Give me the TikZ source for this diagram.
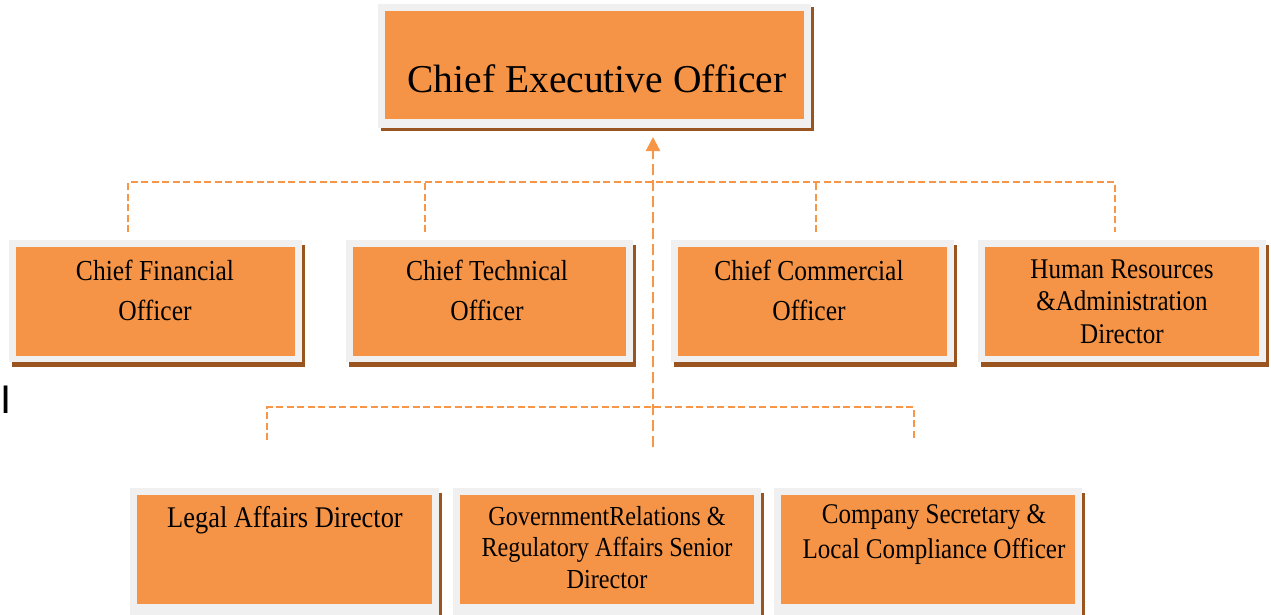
\documentclass[tikz,border=0pt]{standalone}
\usepackage{fontspec}
\setmainfont{Liberation Serif}
\newfontfamily\boxfont[FakeStretch=0.88]{Liberation Serif}
\newfontfamily\barfont{Liberation Sans}
\usetikzlibrary{arrows.meta}

\definecolor{faceorange}{HTML}{F59446}
\definecolor{framegrey}{HTML}{F0F0F0}
\definecolor{shadowbrown}{HTML}{9A541F}
\definecolor{lineorange}{HTML}{F79646}

\tikzset{
  face/.style={fill=faceorange, draw=none, inner sep=0pt, outer sep=0pt},
  lbl/.style={anchor=base, align=center, inner sep=0pt, text=black},
  branch/.style={draw=lineorange, line width=2.2pt, dash pattern=on 7pt off 3.5pt},
  trunk/.style={draw=lineorange, line width=2.2pt, dash pattern=on 11pt off 5pt},
}

% #1 name, #2-#5 face corners (left, top, right, bottom),
% #6 frame margin below the face, #7 drop of the brown shadow
\newcommand\orgbox[7]{%
  \fill[shadowbrown] (#2-4,#3-7+#7) rectangle (#4+10,#5+#6+#7);
  \fill[framegrey] (#2-7,#3-7) rectangle (#4+7,#5+#6);
  \node[face, minimum width={#4-#2}, minimum height={#5-#3}] (#1)
    at ({(#2+#4)/2},{(#3+#5)/2}) {};
}

\begin{document}
\begin{tikzpicture}[x=1pt, y=-1pt]
\useasboundingbox (0,0) rectangle (1271,614);
\clip (0,0) rectangle (1271,614);
\fill[white] (0,0) rectangle (1271,614);

% boxes
\orgbox{ceo}{385}{11}{804}{119}{9}{3}
\orgbox{cfo}{16}{247}{295}{356}{6}{5}
\orgbox{cto}{353}{247}{626}{356}{6}{5}
\orgbox{cco}{678}{247}{947}{356}{6}{5}
\orgbox{hrd}{985}{247}{1259}{356}{6}{5}
\orgbox{lad}{137}{495}{432}{604}{14}{5}
\orgbox{grd}{460}{495}{754}{604}{14}{5}
\orgbox{cso}{781}{495}{1075}{604}{14}{5}

% labels (multi-line labels sit on the baseline of their last line)
\node[lbl, font=\fontsize{39.5}{44}\selectfont] (ceot) at (597,92) {Chief Executive Officer};
\node[lbl, font=\boxfont\fontsize{29}{40}\selectfont] (cfot) at (155,320) {Chief Financial\\Officer};
\node[lbl, font=\boxfont\fontsize{29}{40}\selectfont] (ctot) at (487,320) {Chief Technical\\Officer};
\node[lbl, font=\boxfont\fontsize{29}{40}\selectfont] (ccot) at (809,320) {Chief Commercial\\Officer};
\node[lbl, font=\boxfont\fontsize{28.5}{32.5}\selectfont] (hrdt) at (1122,343) {Human Resources\\\&Administration\\Director};
\node[lbl, font=\boxfont\fontsize{30}{34}\selectfont] (ladt) at (285,527) {Legal Affairs Director};
\node[lbl, font=\boxfont\fontsize{27.5}{31.5}\selectfont] (grdt) at (607,588) {GovernmentRelations \&\\Regulatory Affairs Senior\\Director};
\node[lbl, font=\boxfont\fontsize{28.5}{35}\selectfont] (csot) at (934,558) {Company Secretary \&\\Local Compliance Officer};

% stray text cursor at the left edge
\node[anchor=base, inner sep=0pt, font=\barfont\fontsize{40}{40}\selectfont] (bar) at (6.5,413) {I};

% connector points
\coordinate (hub) at (653,447);
\coordinate (tip) at ([yshift=-18pt]ceo.south);
\coordinate (busL) at (128,182);
\coordinate (busR) at (1115,182);
\coordinate (d1) at (128,232);
\coordinate (d2) at (425,232);
\coordinate (d3) at (816,232);
\coordinate (d4) at (1115,232);
\coordinate (lowL) at (267,407);
\coordinate (lowR) at (914,407);
\coordinate (e1) at (267,440);
\coordinate (e3) at (914,440);

% reporting lines
\draw[branch] (d1) -- (busL) -- (busR) -- (d4);
\draw[branch] (d2) -- (d2 |- busL);
\draw[branch] (d3) -- (d3 |- busL);
\draw[branch] (e1) -- (lowL) -- (lowR) -- (e3);
\draw[trunk, -{Triangle[length=14pt, width=14pt]}] (hub) -- (hub |- tip);
\end{tikzpicture}
\end{document}
